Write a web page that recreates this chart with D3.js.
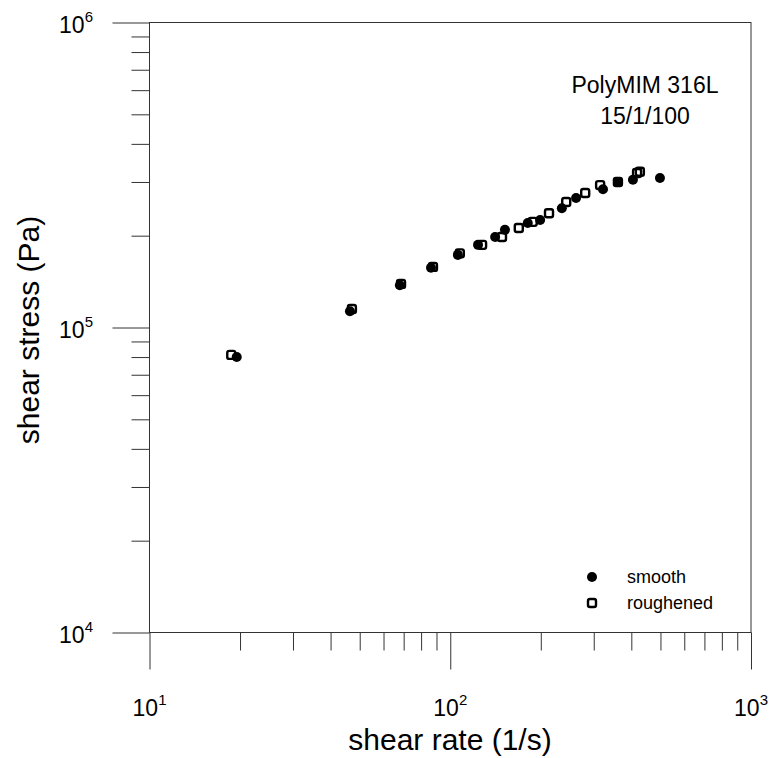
<!DOCTYPE html>
<html>
<head>
<meta charset="utf-8">
<script src="https://cdn.jsdelivr.net/npm/d3@7"></script>
<style>
  html, body { margin: 0; padding: 0; background: #fff; }
  svg { display: block; }
  text { font-family: "Liberation Sans", Arial, sans-serif; fill: #000; }
</style>
</head>
<body>
<svg id="chart" width="773" height="758"></svg>
<script>
// ---- data ----
const smoothRate   = [19.5, 46.4, 68.0, 86.3, 106, 123.7, 141, 152, 181, 199, 235, 262, 322, 361, 405, 498];
const smoothStress = [80000, 113000, 137600, 157000, 173000, 186600, 198000, 209000, 220000, 225000, 246000, 266000, 284000, 300000, 305000, 309000];
const roughRate    = [18.7, 47.1, 68.6, 87.6, 107.6, 127.6, 148.6, 169, 188, 213, 243, 281, 315, 361, 418, 427];
const roughStress  = [81300, 115000, 139000, 158000, 175000, 186600, 198000, 212000, 222000, 237000, 258000, 276000, 293000, 300000, 321000, 324000];
const xMajor = [10, 100, 1000];
const xMinor = [20,30,40,50,60,70,80,90,200,300,400,500,600,700,800,900];
const yMajor = [1e4, 1e5, 1e6];
const yMinor = [2e4,3e4,4e4,5e4,6e4,7e4,8e4,9e4,2e5,3e5,4e5,5e5,6e5,7e5,8e5,9e5];
const xExp = [1, 2, 3];
const yExp = [4, 5, 6];
const titleLines = ["PolyMIM 316L", "15/1/100"];
const seriesNames = ["smooth", "roughened"];
const xTitle = "shear rate (1/s)";
const yTitle = "shear stress (Pa)";

const svg = d3.select("#chart");
const x = d3.scaleLog().domain([10, 1000]).range([149.5, 751]);
const y = d3.scaleLog().domain([1e4, 1e6]).range([632.5, 22.5]);
const axisColor = "#333";

// frame
svg.append("rect")
  .attr("x", x(10)).attr("y", y(1e6))
  .attr("width", x(1000) - x(10)).attr("height", y(1e4) - y(1e6))
  .attr("fill", "none").attr("stroke", axisColor).attr("stroke-width", 1);

function styleAxis(g) {
  g.select(".domain").remove();
  g.selectAll(".tick line").attr("stroke", axisColor).attr("stroke-width", 1);
  g.selectAll(".tick text").remove();
}

// x axis ticks
svg.append("g").attr("transform", `translate(0,${y(1e4)})`)
  .call(d3.axisBottom(x).tickValues(xMajor).tickSize(37).tickSizeOuter(0)).call(styleAxis);
svg.append("g").attr("transform", `translate(0,${y(1e4)})`)
  .call(d3.axisBottom(x).tickValues(xMinor).tickSize(18).tickSizeOuter(0)).call(styleAxis);
// y axis ticks
svg.append("g").attr("transform", `translate(${x(10)},0)`)
  .call(d3.axisLeft(y).tickValues(yMajor).tickSize(37).tickSizeOuter(0)).call(styleAxis);
svg.append("g").attr("transform", `translate(${x(10)},0)`)
  .call(d3.axisLeft(y).tickValues(yMinor).tickSize(18).tickSizeOuter(0)).call(styleAxis);

// x tick labels 10^n
xMajor.forEach((v, i) => {
  const t = svg.append("text").attr("x", x(v)).attr("y", 716)
    .attr("text-anchor", "middle").style("font-size", "23px");
  t.append("tspan").text("10");
  t.append("tspan").attr("dy", -11).style("font-size", "15px").text(xExp[i]);
});
// y tick labels
yMajor.forEach((v, i) => {
  const t = svg.append("text").attr("x", 93).attr("y", y(v) + 10)
    .attr("text-anchor", "end").style("font-size", "23px");
  t.append("tspan").text("10");
  t.append("tspan").attr("dy", -11).style("font-size", "15px").text(yExp[i]);
});

// axis titles
svg.append("text").attr("x", 450).attr("y", 750).attr("text-anchor", "middle")
  .style("font-size", "30px").text(xTitle);
svg.append("text").attr("transform", "translate(39,330) rotate(-90)")
  .attr("text-anchor", "middle").style("font-size", "30px").text(yTitle);

// chart title
titleLines.forEach((s, i) => {
  svg.append("text").attr("x", 645).attr("y", 93 + i * 31).attr("text-anchor", "middle")
    .style("font-size", "23px").text(s);
});

// markers
function drawSmooth(g, cx, cy) {
  g.append("circle").attr("cx", cx).attr("cy", cy).attr("r", 5).attr("fill", "#000");
}
function drawRough(g, cx, cy) {
  g.append("rect").attr("x", cx - 4).attr("y", cy - 4).attr("width", 8).attr("height", 8)
    .attr("rx", 2).attr("fill", "none").attr("stroke", "#000").attr("stroke-width", 2.4);
}
const pts = svg.append("g");
smoothRate.forEach((r, i) => drawSmooth(pts, x(r), y(smoothStress[i])));
roughRate.forEach((r, i) => drawRough(pts, x(r), y(roughStress[i])));

// legend
const lg = svg.append("g");
drawSmooth(lg, 592, 577);
drawRough(lg, 592, 603);
seriesNames.forEach((s, i) => {
  lg.append("text").attr("x", 627).attr("y", 583 + i * 26).style("font-size", "18px").text(s);
});
</script>
</body>
</html>
